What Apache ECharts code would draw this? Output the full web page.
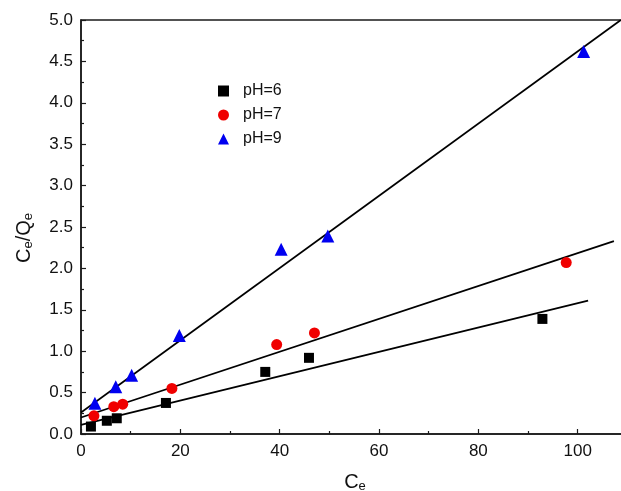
<!DOCTYPE html>
<html>
<head>
<meta charset="utf-8">
<script src="https://cdn.jsdelivr.net/npm/echarts@6/dist/echarts.min.js"></script>
<style>html,body{margin:0;padding:0;background:#fff;}#c{width:621px;height:491px;}</style>
</head>
<body>
<div id="c"></div>
<script>
// Data
const seriesNames = ['pH=6', 'pH=7', 'pH=9'];
const ph6 = [[2.0, 0.09], [5.2, 0.16], [7.2, 0.19], [17.1, 0.375], [37.1, 0.75], [45.9, 0.92], [92.9, 1.39]];
const ph7 = [[2.6, 0.22], [6.6, 0.33], [8.4, 0.36], [18.3, 0.55], [39.4, 1.08], [47.0, 1.22], [97.7, 2.07]];
const ph9 = [[2.8, 0.37], [7.0, 0.57], [10.2, 0.71], [19.8, 1.19], [40.3, 2.23], [49.7, 2.39], [101.2, 4.62]];
// Fitted straight lines (start and end points)
const fit6 = [[0, 0.11], [102.1, 1.61]];
const fit7 = [[0, 0.20], [107.3, 2.33]];
const fit9 = [[0, 0.26], [108.7, 5.0]];
const xTicks = [0, 20, 40, 60, 80, 100];
const yTicks = [0.0, 0.5, 1.0, 1.5, 2.0, 2.5, 3.0, 3.5, 4.0, 4.5, 5.0];

const FONT = 'Liberation Sans, Arial, sans-serif';
const chart = echarts.init(document.getElementById('c'), null, {renderer: 'canvas'});
const axisCommon = {
  axisLine: {show: true, lineStyle: {color: '#1a1a1a', width: 1.5}},
  axisTick: {show: true, inside: true, length: 5, lineStyle: {color: '#1a1a1a', width: 1.2}},
  minorTick: {show: true, splitNumber: 2, length: 3, lineStyle: {color: '#1a1a1a', width: 1.2}},
  splitLine: {show: false},
  nameTextStyle: {color: '#111', fontFamily: FONT}
};
const fitLine = (d) => ({
  type: 'line', data: d, symbol: 'none', silent: true, legendHoverLink: false,
  lineStyle: {color: '#000', width: 1.7}, z: 1, animation: false
});
const richName = {
  a: {fontSize: 20, fontFamily: FONT, color: '#111', lineHeight: 21, verticalAlign: 'top'},
  s: {fontSize: 13, fontFamily: FONT, color: '#111', lineHeight: 13, padding: [11, 0, 0, 0], verticalAlign: 'bottom'}
};
chart.setOption({
  animation: false,
  grid: {left: 81, top: 20, width: 596, height: 414, outerBoundsMode: 'none', containLabel: false,
    show: true, borderColor: '#1a1a1a', borderWidth: 1.5, backgroundColor: 'transparent'},
  legend: {
    data: seriesNames, orient: 'vertical', left: 213, top: 78,
    itemWidth: 11, itemHeight: 11, itemGap: 8,
    textStyle: {fontFamily: FONT, fontSize: 16, color: '#111', padding: [0, 0, 0, 9], lineHeight: 15}
  },
  xAxis: Object.assign({}, axisCommon, {
    type: 'value', min: 0, max: 120, interval: 20,
    name: '{a|C}{s|e}', nameLocation: 'middle', nameGap: 38,
    nameTextStyle: {padding: [0, 48, 0, 0], rich: richName},
    axisLabel: {fontFamily: FONT, fontSize: 17, color: '#111', margin: 9,
      formatter: v => xTicks.indexOf(v) >= 0 ? String(v) : ''}
  }),
  yAxis: Object.assign({}, axisCommon, {
    type: 'value', min: 0, max: 5, interval: 0.5,
    name: '{a|C}{s|e}{a|/Q}{s|e}', nameLocation: 'middle', nameGap: 46, nameRotate: 90,
    nameTextStyle: {padding: [0, 22, 0, 0], rich: richName},
    axisLabel: {fontFamily: FONT, fontSize: 17, color: '#111', margin: 8,
      formatter: v => yTicks.some(t => Math.abs(t - v) < 1e-9) ? v.toFixed(1) : ''}
  }),
  series: [
    fitLine(fit6), fitLine(fit7), fitLine(fit9),
    {name: seriesNames[0], type: 'scatter', data: ph6, symbol: 'rect', symbolSize: 10, itemStyle: {color: '#000', opacity: 1}, z: 3},
    {name: seriesNames[1], type: 'scatter', data: ph7, symbol: 'circle', symbolSize: 11, itemStyle: {color: '#f00000', opacity: 1}, z: 3},
    {name: seriesNames[2], type: 'scatter', data: ph9, symbol: 'triangle', symbolSize: 13, itemStyle: {color: '#0000f0', opacity: 1}, z: 3}
  ]
});
</script>
</body>
</html>
